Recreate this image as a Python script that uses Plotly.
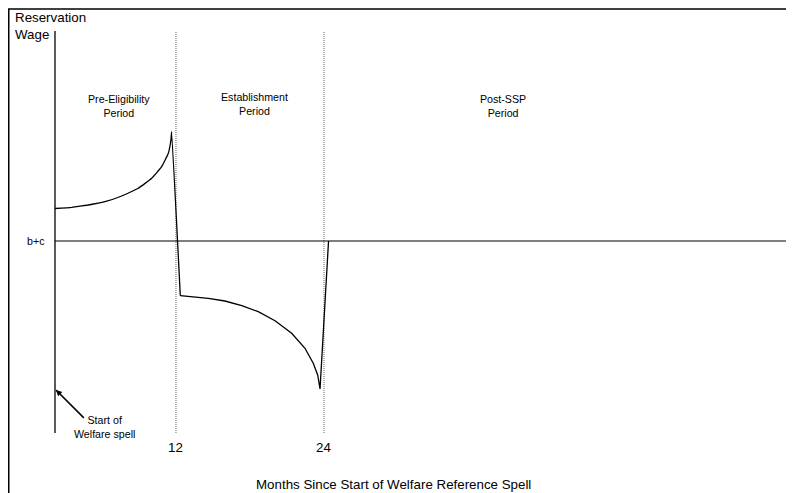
import plotly.graph_objects as go

# ---- data (schematic units: months on x, reservation wage on y) ----
SPELL_START = 2.19          # where the welfare spell begins (vertical axis line)
BC_LEVEL = 10.0             # b+c level
AXIS_BOTTOM = 0.4
AXIS_TOP = 20.5
PERIOD_MARKS = [12, 24]
TICK_LABELS = ["12", "24"]

pre_x = [2.19, 3.54, 4.89, 6.24, 7.60, 8.94, 10.03, 10.84, 11.38, 11.59, 11.65, 12.35]
pre_y = [11.625, 11.685, 11.80, 11.965, 12.25, 12.635, 13.135, 13.715, 14.385, 15.05, 15.465, 7.265]

est_x = [12.35, 13.27, 14.62, 15.97, 17.33, 18.67, 20.03, 21.38, 22.46, 23.13, 23.49, 23.68, 24.37]
est_y = [7.265, 7.215, 7.135, 7.00, 6.765, 6.465, 6.015, 5.385, 4.635, 3.885, 3.30, 2.60, 10.0]

ARROW_X = [4.54, 2.27]      # tail -> head
ARROW_Y = [1.15, 2.55]

X_RANGE = [-1.62, 62.11]
Y_RANGE = [-2.6, 21.65]

PERIOD_NAMES = ["Pre-Eligibility<br>Period", "Establishment<br>Period", "Post-SSP<br>Period"]
PERIOD_LABEL_X = [7.40, 18.4, 38.5]
PERIOD_LABEL_Y = [16.73, 16.85, 16.75]

FONT = "Arial, Liberation Sans, sans-serif"
W, H = 786, 485

fig = go.Figure()

# vertical axis line (start of spell)
fig.add_trace(go.Scatter(x=[SPELL_START, SPELL_START], y=[AXIS_BOTTOM, AXIS_TOP],
                         mode="lines", line=dict(color="black", width=1.3),
                         hoverinfo="skip", showlegend=False))
# dotted period lines
for m in PERIOD_MARKS:
    fig.add_trace(go.Scatter(x=[m, m], y=[AXIS_BOTTOM, AXIS_TOP], mode="lines",
                             line=dict(color="#666666", width=1, dash="1px,1px"),
                             hoverinfo="skip", showlegend=False))
# b+c line
fig.add_trace(go.Scatter(x=[SPELL_START, X_RANGE[1]], y=[BC_LEVEL, BC_LEVEL], mode="lines",
                         line=dict(color="black", width=1.1),
                         hoverinfo="skip", showlegend=False))
# reservation wage path
fig.add_trace(go.Scatter(x=pre_x, y=pre_y, mode="lines",
                         line=dict(color="black", width=1.3, shape="spline", smoothing=0.3),
                         hoverinfo="skip", showlegend=False))
fig.add_trace(go.Scatter(x=est_x, y=est_y, mode="lines", line=dict(color="black", width=1.3),
                         hoverinfo="skip", showlegend=False))
# arrow shaft
fig.add_trace(go.Scatter(x=ARROW_X, y=ARROW_Y, mode="lines", line=dict(color="black", width=1.2),
                         hoverinfo="skip", showlegend=False))

ann = []
for name, lx, ly in zip(PERIOD_NAMES, PERIOD_LABEL_X, PERIOD_LABEL_Y):
    ann.append(dict(x=lx, y=ly, text=name, showarrow=False, xref="x", yref="y",
                    font=dict(size=10.67, color="black", family=FONT)))
for m, t in zip(PERIOD_MARKS, TICK_LABELS):
    ann.append(dict(x=m, y=-0.3, text=t, showarrow=False,
                    font=dict(size=13.33, color="black", family=FONT)))
ann.append(dict(x=0.65, y=BC_LEVEL, text="b+c", showarrow=False,
                font=dict(size=10.67, color="black", family=FONT)))
ann.append(dict(x=29.6, y=-2.15, text="Months Since Start of Welfare Reference Spell", showarrow=False,
                font=dict(size=13.33, color="black", family=FONT)))
ann.append(dict(x=6.24, y=0.725, text="Start of<br>Welfare spell", showarrow=False,
                font=dict(size=10.67, color="black", family=FONT)))
ann.append(dict(x=ARROW_X[1], y=ARROW_Y[1], ax=ARROW_X[0], ay=ARROW_Y[0], axref="x", ayref="y", text="",
                font=dict(size=1), borderpad=0, standoff=0,
                showarrow=True, arrowhead=2, arrowsize=1, arrowwidth=1.2, arrowcolor="black"))
ann.append(dict(x=5 / W, y=1 - 18.5 / H, xref="paper", yref="paper", xanchor="left", yanchor="middle",
                text="Reservation<br>Wage", showarrow=False, align="left",
                font=dict(size=13.33, color="black", family=FONT)))

shapes = [
    dict(type="line", xref="paper", yref="paper", x0=0.75 / W, x1=0.75 / W, y0=0, y1=1 - 1 / H,
         line=dict(color="black", width=1.5)),
    dict(type="line", xref="paper", yref="paper", x0=0, x1=1, y0=1 - 1 / H, y1=1 - 1 / H,
         line=dict(color="black", width=1.5)),
]

fig.update_layout(
    width=W, height=H, margin=dict(l=0, r=0, t=0, b=0),
    paper_bgcolor="white", plot_bgcolor="white",
    xaxis=dict(range=X_RANGE, visible=False, fixedrange=True),
    yaxis=dict(range=Y_RANGE, visible=False, fixedrange=True),
    annotations=ann, shapes=shapes, showlegend=False,
)

fig.write_html("out.html", config={"displayModeBar": False})
